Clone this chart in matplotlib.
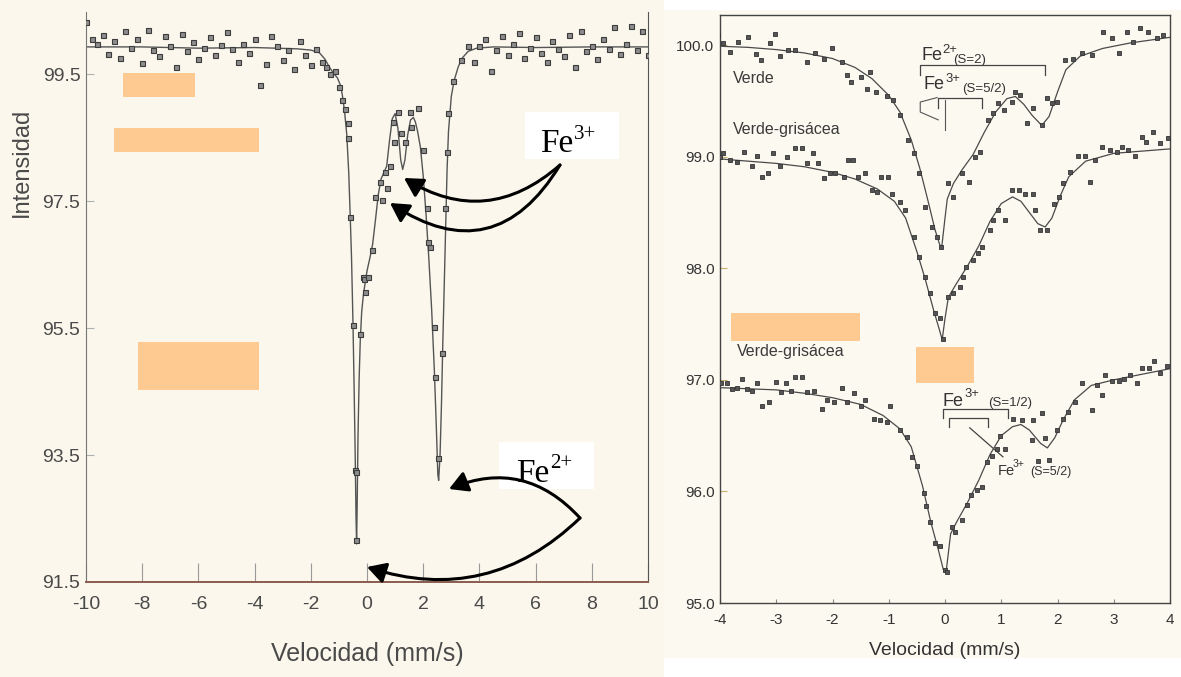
"""Espectros Mössbauer: muestra general (izq.) y muestras verde / verde-grisácea (der.)."""

import matplotlib
matplotlib.use("Agg")
import matplotlib.pyplot as plt
from matplotlib.patches import Rectangle, FancyArrowPatch

W, H = 1181, 677
SANS = ["Liberation Sans", "DejaVu Sans"]
SERIF = ["Liberation Serif", "DejaVu Serif"]
plt.rcParams["font.family"] = SANS

# --------------------------------------------------------------------- #
# Data
# --------------------------------------------------------------------- #
left_fit = [(-10, 99.93), (-8, 99.93), (-6, 99.91), (-4, 99.92), (-2.5, 99.9), (-2.0, 99.88),
            (-1.7, 99.84), (-1.5, 99.74), (-1.35, 99.62), (-1.2, 99.52), (-1.05, 99.44),
            (-0.95, 99.33), (-0.88, 99.18), (-0.8, 98.92), (-0.72, 98.55), (-0.65, 97.95),
            (-0.6, 97.3), (-0.55, 96.6), (-0.5, 95.6), (-0.46, 94.6), (-0.42, 93.5), (-0.39, 92.5),
            (-0.37, 92.1), (-0.35, 92.7), (-0.32, 93.8), (-0.28, 94.7), (-0.24, 95.3),
            (-0.19, 95.75), (-0.13, 96.02), (-0.07, 96.2), (0.0, 96.4), (0.1, 96.6), (0.2, 96.82),
            (0.3, 97.2), (0.4, 97.6), (0.5, 97.85), (0.6, 97.95), (0.7, 98.05), (0.8, 98.45),
            (0.9, 98.8), (1.0, 98.88), (1.1, 98.65), (1.2, 98.15), (1.27, 98.0), (1.35, 98.15),
            (1.45, 98.55), (1.55, 98.78), (1.65, 98.82), (1.72, 98.75), (1.8, 98.6), (1.9, 98.35),
            (2.0, 97.9), (2.1, 97.3), (2.2, 96.6), (2.3, 95.8), (2.4, 94.8), (2.47, 93.9),
            (2.52, 93.2), (2.55, 93.1), (2.6, 93.5), (2.65, 94.3), (2.7, 95.3), (2.75, 96.2),
            (2.8, 97.1), (2.85, 98.0), (2.9, 98.6), (3.0, 99.15), (3.1, 99.4), (3.25, 99.62),
            (3.4, 99.76), (3.6, 99.86), (3.9, 99.91), (4.5, 99.93), (6, 99.92), (8, 99.93),
            (10, 99.93)]

left_pts = [(-10.0, 100.32), (-9.8, 100.05), (-9.6, 99.98), (-9.4, 100.12), (-9.2, 99.82),
            (-9.0, 100.02), (-8.8, 99.75), (-8.6, 100.18), (-8.4, 99.92), (-8.2, 100.06),
            (-8.0, 99.68), (-7.8, 100.2), (-7.6, 99.88), (-7.4, 99.79), (-7.2, 100.1),
            (-7.0, 99.95), (-6.8, 99.62), (-6.6, 100.14), (-6.4, 99.86), (-6.2, 100.0),
            (-6.0, 99.74), (-5.8, 99.92), (-5.6, 100.08), (-5.4, 99.8), (-5.2, 99.96),
            (-5.0, 100.16), (-4.8, 99.9), (-4.6, 99.7), (-4.4, 99.98), (-4.2, 99.84),
            (-4.0, 100.05), (-3.8, 99.33), (-3.6, 99.66), (-3.4, 100.1), (-3.2, 99.94),
            (-3.0, 99.72), (-2.8, 99.88), (-2.6, 99.58), (-2.4, 100.02), (-2.2, 99.8),
            (-2.0, 99.64), (-1.8, 99.9), (-1.6, 99.7), (-1.45, 99.62), (-1.3, 99.5),
            (-1.15, 99.55), (-1.0, 99.3), (-0.9, 99.1), (-0.78, 98.95), (-0.68, 98.73),
            (-0.66, 98.5), (-0.6, 97.25), (-0.5, 95.55), (-0.43, 93.27), (-0.4, 93.24),
            (-0.38, 92.16), (-0.25, 95.4), (-0.14, 96.3), (-0.1, 96.27), (-0.07, 96.07),
            (0.05, 96.3), (0.18, 96.73), (0.28, 97.56), (0.46, 97.8), (0.53, 97.52),
            (0.64, 97.96), (0.71, 97.7), (0.82, 98.05), (0.93, 98.74), (0.96, 98.43),
            (1.1, 98.9), (1.2, 98.57), (1.35, 98.43), (1.53, 98.9), (1.55, 98.67),
            (1.81, 98.96), (2.0, 98.3), (2.14, 97.39), (2.17, 96.85), (2.25, 96.78),
            (2.38, 95.52), (2.42, 94.73), (2.53, 93.45), (2.67, 95.1), (2.78, 97.39),
            (2.85, 98.27), (2.88, 98.89), (3.06, 99.4), (3.35, 99.72), (3.6, 99.95),
            (3.8, 99.7), (4.0, 99.95), (4.2, 100.05), (4.4, 99.55), (4.6, 99.88), (4.8, 100.1),
            (5.0, 99.8), (5.2, 99.98), (5.4, 100.15), (5.6, 99.76), (5.8, 99.92), (6.0, 100.08),
            (6.2, 99.84), (6.4, 99.7), (6.6, 100.02), (6.8, 99.9), (7.0, 99.78), (7.2, 100.12),
            (7.4, 99.62), (7.6, 100.18), (7.8, 99.86), (8.0, 99.95), (8.2, 99.74), (8.4, 100.05),
            (8.6, 99.9), (8.8, 100.24), (9.0, 99.82), (9.2, 99.98), (9.4, 100.26), (9.6, 99.88),
            (9.8, 100.18), (10.0, 99.8)]

verde_fit = [(-4.0, 99.99), (-3.5, 99.98), (-3.0, 99.96), (-2.5, 99.93), (-2.0, 99.88),
             (-1.6, 99.8), (-1.3, 99.7), (-1.0, 99.55), (-0.8, 99.4), (-0.6, 99.15),
             (-0.45, 98.9), (-0.3, 98.6), (-0.18, 98.35), (-0.1, 98.22), (-0.06, 98.18),
             (0.0, 98.45), (0.04, 98.62), (0.15, 98.76), (0.3, 98.88), (0.5, 99.02), (0.7, 99.22),
             (0.9, 99.4), (1.1, 99.52), (1.25, 99.54), (1.4, 99.47), (1.55, 99.37), (1.72, 99.28),
             (1.85, 99.36), (2.0, 99.58), (2.15, 99.78), (2.4, 99.9), (2.8, 99.97), (3.3, 100.02),
             (4.0, 100.07)]

verde_pts = [(-4.03, 100.09), (-3.95, 100.02), (-3.82, 99.94), (-3.68, 100.03), (-3.5, 100.07),
             (-3.36, 99.92), (-3.27, 99.87), (-3.11, 100.02), (-3.02, 100.1), (-2.93, 99.9),
             (-2.79, 99.96), (-2.67, 99.96), (-2.46, 99.85), (-2.31, 99.93), (-2.16, 99.88),
             (-2.01, 99.97), (-1.83, 99.85), (-1.74, 99.73), (-1.68, 99.67), (-1.5, 99.71),
             (-1.39, 99.61), (-1.33, 99.76), (-1.22, 99.58), (-1.04, 99.54), (-0.92, 99.51),
             (-0.8, 99.37), (-0.65, 99.15), (-0.56, 99.03), (-0.47, 98.85), (-0.36, 98.55),
             (-0.24, 98.37), (-0.15, 98.28), (-0.07, 98.19), (0.06, 98.76), (0.15, 98.64),
             (0.3, 98.85), (0.42, 98.77), (0.53, 99.0), (0.62, 99.04), (0.77, 99.33),
             (0.86, 99.39), (0.95, 99.48), (1.04, 99.42), (1.19, 99.49), (1.25, 99.58),
             (1.34, 99.55), (1.45, 99.3), (1.57, 99.44), (1.72, 99.28), (1.81, 99.53),
             (1.9, 99.48), (1.99, 99.49), (2.13, 99.87), (2.28, 99.88), (2.43, 99.93),
             (2.61, 99.91), (2.81, 100.12), (2.96, 100.06), (3.1, 99.93), (3.23, 100.12),
             (3.35, 100.03), (3.47, 100.15), (3.61, 100.12), (3.76, 100.06), (3.88, 100.09)]

gris1_fit = [(-4.0, 98.98), (-3.5, 98.96), (-3.0, 98.94), (-2.5, 98.91), (-2.0, 98.86),
             (-1.6, 98.8), (-1.2, 98.71), (-0.9, 98.6), (-0.7, 98.45), (-0.5, 98.15),
             (-0.35, 97.9), (-0.2, 97.62), (-0.1, 97.45), (-0.05, 97.36), (0.0, 97.55),
             (0.06, 97.74), (0.2, 97.86), (0.4, 98.02), (0.6, 98.2), (0.8, 98.42), (1.0, 98.58),
             (1.2, 98.64), (1.35, 98.6), (1.5, 98.5), (1.65, 98.4), (1.78, 98.37), (1.9, 98.45),
             (2.05, 98.65), (2.2, 98.82), (2.5, 98.96), (3.0, 99.03), (3.5, 99.05), (4.0, 99.07)]

gris1_pts = [(-4.0, 99.0), (-3.95, 99.03), (-3.82, 98.97), (-3.7, 98.95), (-3.58, 99.04),
             (-3.44, 98.92), (-3.35, 99.01), (-3.26, 98.82), (-3.14, 98.85), (-3.05, 99.03),
             (-2.93, 98.92), (-2.81, 99.0), (-2.67, 99.08), (-2.55, 99.08), (-2.46, 98.94),
             (-2.34, 99.03), (-2.25, 98.94), (-2.16, 98.81), (-2.04, 98.85), (-1.95, 98.85),
             (-1.8, 98.82), (-1.72, 98.97), (-1.63, 98.97), (-1.54, 98.82), (-1.42, 98.85),
             (-1.3, 98.7), (-1.21, 98.68), (-1.13, 98.82), (-1.01, 98.82), (-0.95, 98.67),
             (-0.8, 98.59), (-0.71, 98.52), (-0.56, 98.28), (-0.47, 98.1), (-0.36, 97.92),
             (-0.27, 97.78), (-0.18, 97.6), (-0.09, 97.55), (-0.03, 97.37), (0.05, 97.74),
             (0.14, 97.78), (0.26, 97.83), (0.32, 97.92), (0.38, 98.01), (0.5, 98.07),
             (0.59, 98.14), (0.65, 98.19), (0.8, 98.34), (0.86, 98.43), (0.95, 98.52),
             (1.07, 98.43), (1.19, 98.7), (1.31, 98.7), (1.43, 98.67), (1.57, 98.67),
             (1.6, 98.52), (1.69, 98.34), (1.81, 98.34), (1.93, 98.58), (2.02, 98.64),
             (2.1, 98.76), (2.22, 98.86), (2.37, 99.01), (2.49, 99.01), (2.58, 98.77),
             (2.67, 98.97), (2.79, 99.09), (2.94, 99.06), (3.05, 99.04), (3.14, 99.09),
             (3.26, 99.06), (3.38, 99.01), (3.5, 99.18), (3.58, 99.13), (3.7, 99.22),
             (3.82, 99.12), (3.97, 99.17)]

gris2_fit = [(-4.0, 96.93), (-3.0, 96.91), (-2.5, 96.88), (-2.0, 96.84), (-1.5, 96.78),
             (-1.1, 96.68), (-0.8, 96.56), (-0.6, 96.4), (-0.4, 96.05), (-0.25, 95.72),
             (-0.12, 95.48), (-0.03, 95.3), (0.02, 95.28), (0.1, 95.62), (0.2, 95.72),
             (0.4, 95.9), (0.6, 96.1), (0.8, 96.33), (1.0, 96.5), (1.2, 96.58), (1.35, 96.6),
             (1.5, 96.55), (1.7, 96.43), (1.82, 96.39), (1.95, 96.48), (2.1, 96.64),
             (2.3, 96.82), (2.6, 96.95), (3.0, 97.0), (3.5, 97.05), (4.0, 97.1)]

gris2_pts = [(-3.99, 96.97), (-3.87, 96.97), (-3.79, 96.92), (-3.7, 96.93), (-3.61, 97.01),
             (-3.52, 96.92), (-3.43, 96.9), (-3.34, 96.97), (-3.25, 96.77), (-3.13, 96.8),
             (-3.01, 96.98), (-2.92, 96.89), (-2.83, 96.97), (-2.74, 96.9), (-2.66, 97.03),
             (-2.54, 97.03), (-2.45, 96.89), (-2.33, 96.9), (-2.19, 96.74), (-2.1, 96.82),
             (-1.98, 96.8), (-1.83, 96.93), (-1.74, 96.8), (-1.62, 96.88), (-1.5, 96.77),
             (-1.42, 96.82), (-1.27, 96.65), (-1.15, 96.64), (-1.03, 96.62), (-0.97, 96.77),
             (-0.8, 96.55), (-0.68, 96.49), (-0.59, 96.31), (-0.5, 96.23), (-0.38, 95.99),
             (-0.33, 95.87), (-0.27, 95.73), (-0.18, 95.54), (-0.09, 95.51), (0.0, 95.3),
             (0.04, 95.28), (0.12, 95.68), (0.18, 95.64), (0.3, 95.74), (0.39, 95.88),
             (0.47, 95.97), (0.56, 96.01), (0.65, 96.04), (0.74, 96.26), (0.83, 96.32),
             (0.92, 96.38), (0.98, 96.5), (1.07, 96.38), (1.21, 96.65), (1.36, 96.64),
             (1.54, 96.46), (1.57, 96.64), (1.66, 96.27), (1.72, 96.7), (1.78, 96.48),
             (1.84, 96.28), (1.99, 96.55), (2.1, 96.65), (2.19, 96.71), (2.31, 96.8),
             (2.43, 96.97), (2.61, 96.73), (2.7, 96.95), (2.79, 96.86), (2.85, 97.04),
             (2.97, 96.99), (3.09, 96.99), (3.18, 97.01), (3.29, 97.04), (3.41, 96.97),
             (3.5, 97.11), (3.62, 97.11), (3.71, 97.17), (3.83, 97.06), (3.95, 97.12)]

left_xticks = [-10, -8, -6, -4, -2, 0, 2, 4, 6, 8, 10]
left_yticks = [91.5, 93.5, 95.5, 97.5, 99.5]
right_xticks = [-4, -3, -2, -1, 0, 1, 2, 3, 4]
right_yticks = [95.0, 96.0, 97.0, 98.0, 99.0, 100.0]


def unzip(pairs):
    return [p[0] for p in pairs], [p[1] for p in pairs]


def fx(x):
    return x / W


def fy(y):
    return 1 - y / H


def fig_rect(fig, x0, y0, x1, y1, color, z):
    fig.add_artist(Rectangle((fx(x0), fy(y1)), (x1 - x0) / W, (y1 - y0) / H,
                             transform=fig.transFigure, facecolor=color,
                             edgecolor="none", zorder=z))


# --------------------------------------------------------------------- #
# Figure + scanned-paper backgrounds
# --------------------------------------------------------------------- #
fig = plt.figure(figsize=(W / 100, H / 100), dpi=100, facecolor="white")
fig_rect(fig, 0, 0, 664, 677, "#fbf7ec", -5)
fig_rect(fig, 664, 10, 1181, 658, "#fcf9f0", -5)

TXT = "#4a4a4a"

# ---------------- left panel ----------------
axL = fig.add_axes([fx(86), fy(582), (648 - 86) / W, (582 - 12) / H])
axL.patch.set_alpha(0)
v, i = unzip(left_fit)
axL.plot(v, i, color="#555555", lw=1.0, zorder=2)
v, i = unzip(left_pts)
axL.plot(v, i, ls="none", marker="s", ms=3.6, mew=0.8, mfc="#8c8c8c", mec="#3c3c3c", zorder=3)
axL.set_xlim(-10, 10)
axL.set_ylim(91.5, 100.48)
axL.set_xticks(left_xticks)
axL.set_xticklabels([str(t) for t in left_xticks])
axL.set_yticks(left_yticks)
axL.set_yticklabels([f"{t:.1f}" for t in left_yticks])
axL.tick_params(axis="x", direction="in", length=14, width=0.8, color="#9a9a9a",
                pad=10, labelsize=14, labelcolor=TXT)
axL.tick_params(axis="y", direction="in", length=6, width=0.8, color="#b0b0b0",
                pad=4, labelsize=14, labelcolor=TXT)
axL.spines["top"].set_visible(False)
axL.spines["left"].set_color("#777777")
axL.spines["right"].set_color("#555555")
axL.spines["bottom"].set_color("#8a5c50")
axL.spines["bottom"].set_linewidth(1.4)
axL.set_xlabel("Velocidad (mm/s)", fontsize=18, color=TXT, labelpad=21)
axL.set_ylabel("Intensidad", fontsize=17, color=TXT, va="center")
axL.yaxis.set_label_coords((22 - 86) / 562, (582 - 162) / 570)

# ---------------- right panel ----------------
axR = fig.add_axes([fx(720), fy(603), (1170 - 720) / W, (603 - 15) / H])
axR.patch.set_alpha(0)
for fit, pts in [(verde_fit, verde_pts), (gris1_fit, gris1_pts), (gris2_fit, gris2_pts)]:
    v, i = unzip(fit)
    axR.plot(v, i, color="#4a4a4a", lw=0.9, zorder=2)
    v, i = unzip(pts)
    axR.plot(v, i, ls="none", marker="s", ms=3.0, mew=0.6, mfc="#555555", mec="#333333",
             zorder=3)
axR.set_xlim(-4, 4)
axR.set_ylim(95.0, 100.27)
axR.set_xticks(right_xticks)
axR.set_xticklabels([str(t) for t in right_xticks])
axR.set_yticks(right_yticks)
axR.set_yticklabels([f"{t:.1f}" for t in right_yticks])
axR.tick_params(axis="x", direction="in", length=3, width=0.8, color="#888888",
                pad=7, labelsize=11, labelcolor="#333333")
axR.tick_params(axis="y", direction="in", length=5, width=0.8, color="#c8b070",
                pad=4, labelsize=11, labelcolor="#333333")
for s in axR.spines.values():
    s.set_color("#444444")
    s.set_linewidth(1.0)
axR.set_xlabel("Velocidad (mm/s)", fontsize=14, color="#333333", labelpad=11)

# sample names
for x, y, t in [(-3.77, 99.70, "Verde"), (-3.77, 99.24, "Verde-grisácea"),
                (-3.70, 97.25, "Verde-grisácea")]:
    axR.text(x, y, t, fontsize=11.5, color="#3a3a3a", va="center", ha="left")

# Fe site labels: (x_Fe, baseline, sup, x_sup, base_sup, spin, x_spin, base_spin, size)
site_labels = [
    (-0.41, 99.87, "2+", -0.04, 99.93, "(S=2)", 0.14, 99.84, 13),
    (-0.39, 99.61, "3+", 0.00, 99.67, "(S=5/2)", 0.30, 99.58, 13),
    (-0.04, 96.77, "3+", 0.35, 96.85, "(S=1/2)", 0.76, 96.77, 13),
    (0.94, 96.15, "3+", 1.21, 96.22, "(S=5/2)", 1.51, 96.15, 10.5),
]
for xf, yf, sup, xs, ys, spin, xp, yp, size in site_labels:
    axR.text(xf, yf, "Fe", fontsize=size, color="#333333", va="baseline")
    axR.text(xs, ys, sup, fontsize=size * 0.72, color="#333333", va="baseline")
    axR.text(xp, yp, spin, fontsize=9.5 if size > 11 else 9, color="#333333", va="baseline")

# doublet brackets
brackets = [(-0.44, 1.78, 99.82, 99.73), (-0.12, 0.66, 99.53, 99.44),
            (-0.04, 1.12, 96.74, 96.66), (0.07, 0.76, 96.66, 96.58)]
for x0, x1, ytop, ybot in brackets:
    axR.plot([x0, x0, x1, x1], [ybot, ytop, ytop, ybot], color="#444444", lw=0.9)
axR.plot([0.0, 0.0], [99.51, 99.24], color="#555555", lw=0.8)
axR.plot([-0.14, -0.44, -0.44, -0.12], [99.53, 99.49, 99.40, 99.33], color="#555555", lw=0.8)
axR.plot([0.44, 1.03], [96.57, 96.31], color="#444444", lw=0.9)

# --------------------------------------------------------------------- #
# Overlays on the scan: callout boxes, arrows, redaction patches
# --------------------------------------------------------------------- #
fig_rect(fig, 525, 112, 619, 159, "white", 6)
fig_rect(fig, 499, 442, 594, 489, "white", 6)
fig.text(fx(540), fy(152), "Fe", fontsize=24, family=SERIF, color="black",
         va="baseline", zorder=7)
fig.text(fx(574), fy(139), "3+", fontsize=15, family=SERIF, color="black",
         va="baseline", zorder=7)
fig.text(fx(516), fy(482), "Fe", fontsize=24, family=SERIF, color="black",
         va="baseline", zorder=7)
fig.text(fx(550), fy(468), "2+", fontsize=15, family=SERIF, color="black",
         va="baseline", zorder=7)

arrows = [((560, 165), (404, 178), -0.37), ((560, 165), (390, 203), -0.52),
          ((580, 518), (449, 489), 0.35), ((580, 518), (367, 567), -0.3)]
for (x0, y0), (x1, y1), rad in arrows:
    fig.add_artist(FancyArrowPatch((fx(x0), fy(y0)), (fx(x1), fy(y1)),
                                   transform=fig.transFigure,
                                   connectionstyle=f"arc3,rad={rad}",
                                   arrowstyle="-|>,head_length=0.8,head_width=0.45",
                                   mutation_scale=14, lw=2.2, color="black",
                                   shrinkA=0, shrinkB=0, zorder=7))

for x0, y0, x1, y1 in [(123, 73, 195, 97), (114, 128, 259, 152), (138, 342, 259, 390),
                       (731, 313, 860, 341), (916, 347, 974, 383)]:
    fig_rect(fig, x0, y0, x1, y1, "#ffc992", 8)

fig.savefig("out.png", dpi=100, facecolor=fig.get_facecolor())
